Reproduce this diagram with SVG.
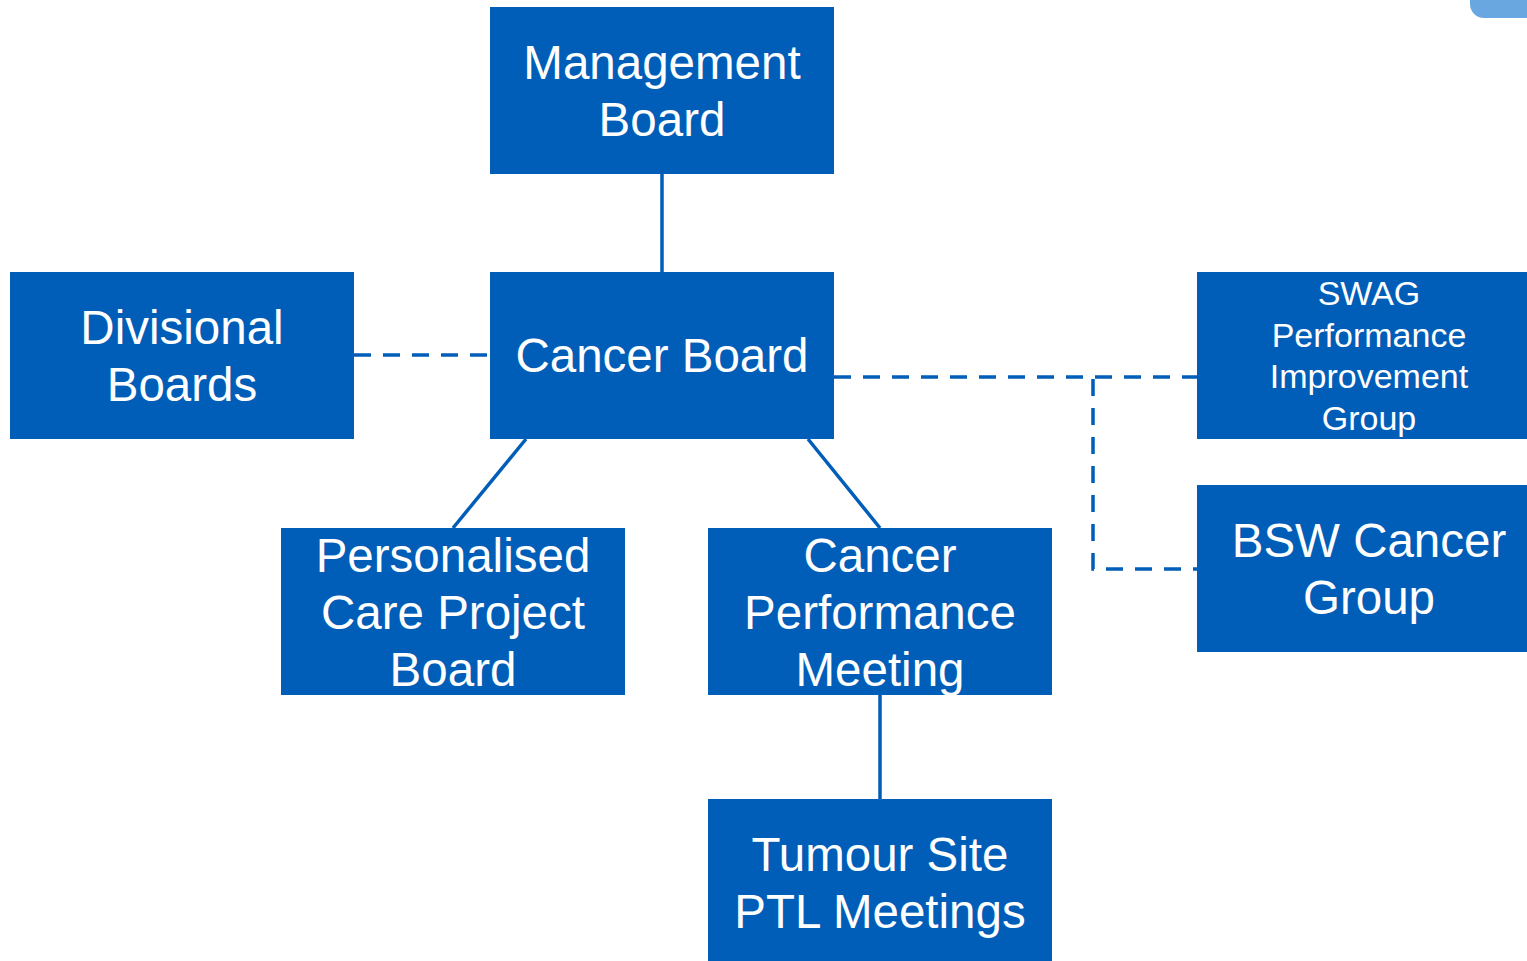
<svg xmlns="http://www.w3.org/2000/svg" width="1527" height="961" viewBox="0 0 1527 961">
<style>
.box{fill:#005EB8}
.t{fill:#FFFFFF;font-family:"Liberation Sans",Arial,sans-serif;font-size:47.5px;text-anchor:middle}
.ts{font-size:34px}
.solid{stroke:#005EB8;stroke-width:3.5;fill:none}
.dash{stroke:#005EB8;stroke-width:3.5;fill:none;stroke-dasharray:17 12}
</style>
<rect x="0" y="0" width="1527" height="961" fill="#FFFFFF"/>
<rect x="1470" y="-30" width="90" height="48" rx="14" fill="#69A7E0"/>
<g id="connectors">
<line class="solid" x1="662" y1="174" x2="662" y2="272"/>
<line class="dash" x1="354" y1="355" x2="490" y2="355"/>
<line class="dash" x1="834" y1="377" x2="1197" y2="377"/>
<path class="dash" d="M1093 379 L1093 569 L1197 569"/>
<line class="solid" x1="526" y1="439" x2="453" y2="528"/>
<line class="solid" x1="808" y1="439" x2="880" y2="528"/>
<line class="solid" x1="880" y1="695" x2="880" y2="799"/>
</g>
<g id="management-board">
<rect class="box" x="490" y="7" width="344" height="167"/>
<text class="t" x="662" y="79">Management</text>
<text class="t" x="662" y="136">Board</text>
</g>
<g id="cancer-board">
<rect class="box" x="490" y="272" width="344" height="167"/>
<text class="t" x="662" y="372">Cancer Board</text>
</g>
<g id="divisional-boards">
<rect class="box" x="10" y="272" width="344" height="167"/>
<text class="t" x="182" y="344">Divisional</text>
<text class="t" x="182" y="401">Boards</text>
</g>
<g id="swag">
<rect class="box" x="1197" y="272" width="344" height="167"/>
<text class="t ts" x="1369" y="305">SWAG</text>
<text class="t ts" x="1369" y="346.5">Performance</text>
<text class="t ts" x="1369" y="388">Improvement</text>
<text class="t ts" x="1369" y="429.5">Group</text>
</g>
<g id="bsw-cancer-group">
<rect class="box" x="1197" y="485" width="344" height="167"/>
<text class="t" x="1369" y="557">BSW Cancer</text>
<text class="t" x="1369" y="614">Group</text>
</g>
<g id="personalised-care">
<rect class="box" x="281" y="528" width="344" height="167"/>
<text class="t" x="453" y="572">Personalised</text>
<text class="t" x="453" y="629">Care Project</text>
<text class="t" x="453" y="686">Board</text>
</g>
<g id="cancer-performance">
<rect class="box" x="708" y="528" width="344" height="167"/>
<text class="t" x="880" y="572">Cancer</text>
<text class="t" x="880" y="629">Performance</text>
<text class="t" x="880" y="686">Meeting</text>
</g>
<g id="tumour-site">
<rect class="box" x="708" y="799" width="344" height="167"/>
<text class="t" x="880" y="871">Tumour Site</text>
<text class="t" x="880" y="928">PTL Meetings</text>
</g>
</svg>
